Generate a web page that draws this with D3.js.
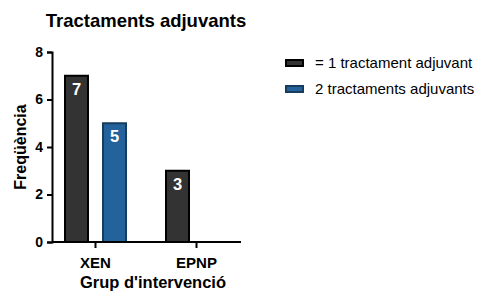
<!DOCTYPE html>
<html>
<head>
<meta charset="utf-8">
<script src="https://cdn.jsdelivr.net/npm/d3@7"></script>
<style>
  body { margin: 0; background: #fff; }
  svg { font-family: "Liberation Sans", Arial, Helvetica, sans-serif; }
</style>
</head>
<body>
<div id="chart"></div>
<script>
// data
var groups = ["XEN", "EPNP"];
var series = ["= 1 tractament adjuvant", "2 tractaments adjuvants"];
var oneTreatment = [7, 3];
var twoTreatments = [5, 0];
var yTicks = [0, 2, 4, 6, 8];

var colors = ["#333333", "#23629a"];
var strokes = ["#000", "#163d5e"];

var width = 477, height = 291;
var margin = { top: 52, left: 52, bottom: 49, right: 236 };

var svg = d3.select("#chart").append("svg")
    .attr("width", width)
    .attr("height", height);

var y = d3.scaleLinear()
    .domain([0, 8])
    .range([height - margin.bottom, margin.top]);

// group bands: centres at ~96 and ~197
var x0 = d3.scaleBand()
    .domain(groups)
    .range([65, 227])
    .paddingInner(0.396)
    .paddingOuter(0);

var x1 = d3.scaleBand()
    .domain([0, 1])
    .range([0, x0.bandwidth()])
    .paddingInner(0.395)
    .paddingOuter(0);

var rows = [];
groups.forEach(function(g, i) {
    rows.push({ group: g, s: 0, value: oneTreatment[i] });
    rows.push({ group: g, s: 1, value: twoTreatments[i] });
});

// bars
var bars = svg.append("g").selectAll("g")
    .data(rows.filter(function(d) { return d.value > 0; }))
    .enter().append("g");

bars.append("rect")
    .attr("x", function(d) { return x0(d.group) + x1(d.s); })
    .attr("y", function(d) { return y(d.value); })
    .attr("width", x1.bandwidth())
    .attr("height", function(d) { return y(0) - y(d.value); })
    .style("fill", function(d) { return colors[d.s]; })
    .style("stroke", function(d) { return strokes[d.s]; })
    .style("stroke-width", 2);

bars.append("text")
    .attr("x", function(d) { return x0(d.group) + x1(d.s) + x1.bandwidth() / 2; })
    .attr("y", function(d) { return y(d.value) + 19; })
    .attr("text-anchor", "middle")
    .style("fill", "#fff")
    .style("font-weight", "bold")
    .style("font-size", "16.5px")
    .text(function(d) { return d.value; });

// axes
var yAxis = svg.append("g")
    .attr("transform", "translate(" + margin.left + ",0)")
    .call(d3.axisLeft(y).tickValues(yTicks).tickSize(5).tickPadding(4));

var xAxis = svg.append("g")
    .attr("transform", "translate(0," + y(0) + ")")
    .call(d3.axisBottom(x0).tickSize(6).tickPadding(9).tickSizeOuter(0));

xAxis.select(".domain").attr("d", "M" + margin.left + ",0H" + (width - margin.right));

[yAxis, xAxis].forEach(function(a) {
    a.select(".domain").style("stroke", "#000").style("stroke-width", 2);
    a.selectAll(".tick line").style("stroke", "#000").style("stroke-width", 2);
    a.selectAll("text")
        .style("fill", "#000")
        .style("font-weight", "bold")
        .style("font-family", "'Liberation Sans', Arial, sans-serif");
});
yAxis.selectAll("text").style("font-size", "14px");
xAxis.selectAll("text").style("font-size", "15px");

// titles
svg.append("text")
    .attr("x", 146)
    .attr("y", 27)
    .attr("text-anchor", "middle")
    .style("font-weight", "bold")
    .style("font-size", "18.5px")
    .text("Tractaments adjuvants");

svg.append("text")
    .attr("transform", "translate(26,147) rotate(-90)")
    .attr("text-anchor", "middle")
    .style("font-weight", "bold")
    .style("font-size", "16px")
    .text("Freqüència");

svg.append("text")
    .attr("x", 153)
    .attr("y", 288)
    .attr("text-anchor", "middle")
    .style("font-weight", "bold")
    .style("font-size", "16.5px")
    .text("Grup d'intervenció");

// legend
var legend = svg.append("g").selectAll("g")
    .data(series)
    .enter().append("g")
    .attr("transform", function(d, i) { return "translate(286," + (63 + i * 26) + ")"; });

legend.append("rect")
    .attr("x", 0)
    .attr("y", -3)
    .attr("width", 17)
    .attr("height", 6)
    .style("fill", function(d, i) { return colors[i]; })
    .style("stroke", function(d, i) { return strokes[i]; })
    .style("stroke-width", 2);

legend.append("text")
    .attr("x", 29)
    .attr("y", 5)
    .style("font-size", "15px")
    .style("fill", "#000")
    .text(function(d) { return d; });
</script>
</body>
</html>
